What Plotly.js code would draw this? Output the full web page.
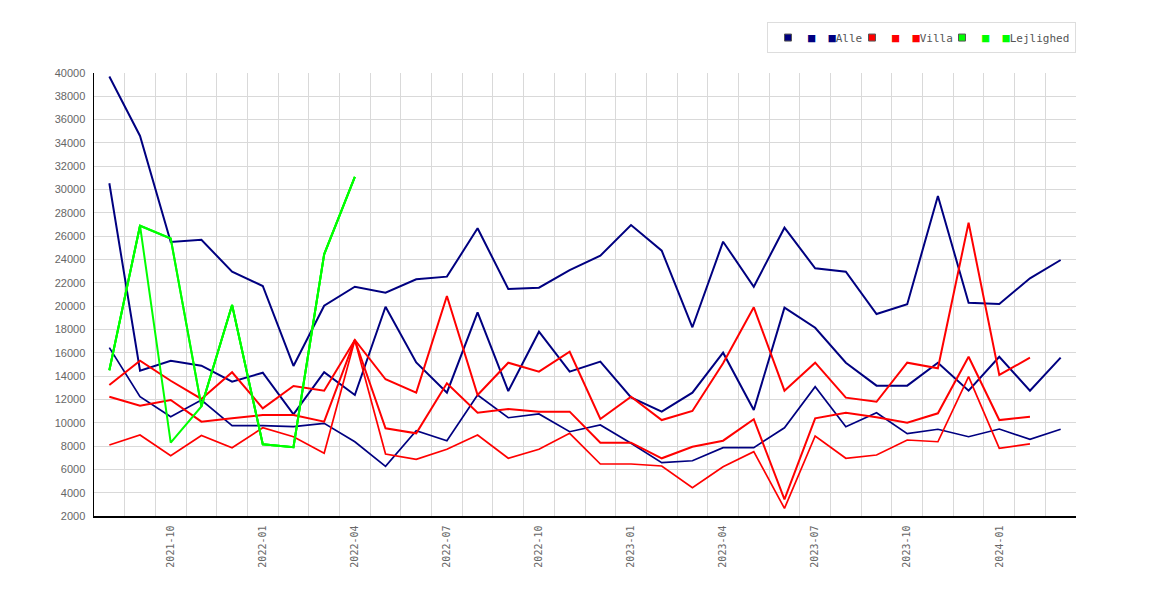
<!DOCTYPE html>
<html>
<head>
<meta charset="utf-8">
<script src="https://cdn.plot.ly/plotly-3.0.1.min.js"></script>
<style>
  html, body { margin: 0; padding: 0; background: #fff; }
  #chart { width: 1170px; height: 600px; }
</style>
</head>
<body>
<div id="chart"></div>
<script>
let months = [
  '2021-08', '2021-09', '2021-10', '2021-11', '2021-12', '2022-01', '2022-02', '2022-03',
  '2022-04', '2022-05', '2022-06', '2022-07', '2022-08', '2022-09', '2022-10', '2022-11',
  '2022-12', '2023-01', '2023-02', '2023-03', '2023-04', '2023-05', '2023-06', '2023-07',
  '2023-08', '2023-09', '2023-10', '2023-11', '2023-12', '2024-01', '2024-02', '2024-03',
];
let labelled = ['2021-10', '2022-01', '2022-04', '2022-07', '2022-10', '2023-01', '2023-04', '2023-07', '2023-10', '2024-01'];

// Alle
let alle1 = [39700, 34600, 25500, 25700, 22950, 21730, 14870, 20040, 21670, 21150, 22300, 22530, 26680, 21470, 21580, 23100,
  24330, 26960, 24760, 18190, 25530, 21670, 26730, 23250, 22960, 19330, 20170, 29450, 20300, 20190, 22390, 23960];
let alle2 = [30540, 14460, 15320, 14890, 13520, 14290, 10720, 14330, 12380, 19950, 15170, 12580, 19470, 12720, 17810, 14380,
  15240, 12180, 10950, 12580, 16010, 11090, 19870, 18150, 15150, 13180, 13180, 15150, 12750, 15660, 12750, 15580];
let alle3 = [16440, 12230, 10520, 11950, 9750, 9750, 9660, 9950, 8370, 6260, 9320, 8460, 12380, 10430, 10750, 9230,
  9810, 8240, 6570, 6740, 7860, 7860, 9570, 13090, 9660, 10860, 9060, 9440, 8800, 9460, 8580, 9440];

// Villa
let villa1 = [13240, 15320, 13600, 12040, 14330, 11240, 13150, 12750, 17100, 13730, 12580, 20870, 12380, 15150, 14380, 16090,
  10320, 12230, 10230, 11010, 15100, 19900, 12750, 15150, 12150, 11800, 15150, 14670, 27160, 14100, 15580];
let villa2 = [12230, 11460, 11950, 10090, 10380, 10660, 10660, 10090, 17100, 9520, 9090, 13380, 10860, 11180, 10950, 10950,
  8290, 8290, 6950, 7940, 8460, 10300, 3430, 10380, 10860, 10470, 10000, 10810, 15660, 10230, 10520];
let villa3 = [8090, 8950, 7170, 8900, 7860, 9570, 8800, 7380, 17100, 7320, 6860, 7720, 8950, 6950, 7720, 9090,
  6460, 6460, 6290, 4430, 6230, 7520, 2660, 8860, 6950, 7230, 8520, 8370, 13950, 7810, 8180];

// Lejlighed
let lejl1 = [14500, 26900, 25800, 11400, 20100, 8150, 7900, 24450, 31100];
let lejl2 = [14500, 26900, 8300, 11400, 20100, 8150, 7900, 24450, 31100];
let lejl3 = [14500, 26900, 25800, 11400, 20100, 8150, 7900, 24450, 31100];

let groups = [
  { name: 'Alle', color: '#000080', series: [alle1, alle2, alle3], legendwidth: 39 },
  { name: 'Villa', color: '#ff0000', series: [villa1, villa2, villa3], legendwidth: 45 },
  { name: 'Lejlighed', color: '#00ff00', series: [lejl1, lejl2, lejl3] },
];
let widths = [2, 2, 1.7];

let data = [];
groups.forEach(g => {
  g.series.forEach((s, i) => {
    data.push({
      x: months.slice(0, s.length),
      y: s,
      type: 'scatter',
      mode: 'lines',
      line: { color: g.color, width: g.name === 'Lejlighed' ? 2 : widths[i] },
      showlegend: false,
      hoverinfo: 'skip',
    });
  });
});

// legend: one entry per group, the two extra swatches are drawn as text squares
let sq = c => '<span style="color:' + c + ';font-size:12px">■</span>';
groups.forEach(g => {
  let entry = {
    x: [null],
    y: [null],
    type: 'scatter',
    mode: 'markers',
    marker: { symbol: 'square', size: 7, color: g.color, line: { color: '#555', width: 1 } },
    name: sq(g.color) + '  ' + sq(g.color) + g.name,
    showlegend: true,
  };
  if (g.legendwidth) entry.legendwidth = g.legendwidth;
  data.push(entry);
});

Plotly.newPlot(
  'chart',
  data,
  {
    width: 1170,
    height: 600,
    paper_bgcolor: '#ffffff',
    plot_bgcolor: '#ffffff',
    margin: { t: 73, r: 94, b: 84, l: 94 },
    xaxis: {
      type: 'category',
      categoryorder: 'array',
      categoryarray: months,
      range: [-0.5, months.length - 0.5],
      tickmode: 'array',
      tickvals: months,
      ticktext: months.map(m => (labelled.includes(m) ? m : '')),
      tickson: 'boundaries',
      tickangle: -90,
      ticks: '',
      ticklabelstandoff: 4,
      showgrid: true,
      gridcolor: '#d9d9d9',
      gridwidth: 1,
      showline: true,
      linecolor: '#000',
      linewidth: 1.5,
      zeroline: false,
      tickfont: { family: 'DejaVu Sans Mono, monospace', size: 10, color: '#666' },
    },
    yaxis: {
      range: [2000, 40000],
      dtick: 2000,
      tick0: 2000,
      tickformat: 'd',
      ticks: '',
      ticklabelstandoff: 5,
      showgrid: true,
      gridcolor: '#d9d9d9',
      gridwidth: 1,
      showline: true,
      linecolor: '#000',
      linewidth: 1.5,
      zeroline: false,
      tickfont: { family: 'Liberation Sans, Arial, sans-serif', size: 11, color: '#666' },
    },
    showlegend: true,
    legend: {
      orientation: 'h',
      x: 1,
      xanchor: 'right',
      y: 1.115,
      yanchor: 'top',
      bordercolor: '#dddddd',
      borderwidth: 1,
      itemwidth: 30,
      tracegroupgap: 0,
      font: { family: 'DejaVu Sans Mono, monospace', size: 11, color: '#555' },
    },
  },
  { staticPlot: true }
);
</script>
</body>
</html>
